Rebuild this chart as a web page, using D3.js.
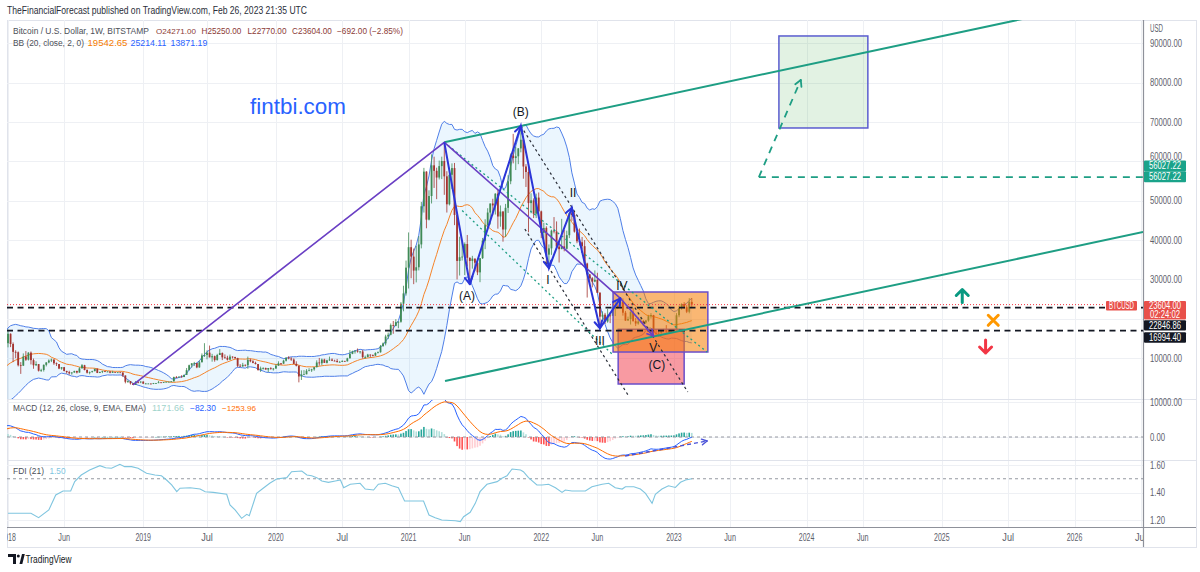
<!DOCTYPE html>
<html><head><meta charset="utf-8">
<script src="https://cdn.jsdelivr.net/npm/d3@7"></script>
<style>
body{margin:0;background:#fff;}
svg{display:block;font-family:"Liberation Sans",Arial,sans-serif;}
</style></head>
<body><svg id="c" width="1200" height="572"></svg>
<script>
// ---------------- DATA ----------------
const firstWeek = "2017-01-02"; // weekly bars (Monday open), BITSTAMP BTCUSD
const closes = [
905,820,920,920,1020,995,1050,1180,1270,1230,1020,960,1080,1190,1180,1240,1350,1550,1750,2050,2050,2520,2950,2500,2550,2500,2510,1930,2750,2750,3230,4050,4100,4350,4600,4200,3700,3600,4350,4600,5700,6000,5800,7400,5950,7800,9700,11000,15000,19000,14000,13800,
16200,13600,11600,11500,8200,8100,10400,9600,11400,9500,8200,8500,6800,7000,8300,8900,9400,9650,8700,8500,7350,7700,6750,6450,6150,6350,6750,6350,7400,8200,7000,6300,6500,6700,7300,6250,6500,6700,6600,6600,6300,6450,6400,6400,6350,5600,4000,4150,3600,3200,3950,3850,
4050,3500,3550,3550,3450,3650,3650,3850,3800,3900,4000,4000,4100,5200,5100,5300,5200,5750,6950,8200,8700,8750,7650,8950,10700,10800,11400,10200,10500,9500,10800,11300,10200,10100,9600,10400,10300,10000,8050,7900,8300,8200,9550,9200,8800,8500,7000,7400,7500,7100,7500,7300,
7350,8100,8700,8600,9350,10150,9900,9650,8550,8050,5350,5850,5900,6800,6900,7150,7700,8900,8700,9650,8800,9450,9650,9350,9300,9000,9050,9300,9200,9950,11100,11700,11900,11650,11700,10250,10300,10900,10750,10650,11300,11500,13050,13750,15500,15950,18400,18200,19150,19250,23850,26450,
33000,38200,35800,32250,33100,38900,48600,57400,45200,51200,59000,57600,55900,58800,60100,56200,49100,56600,58300,46400,34700,35650,35800,39000,35500,34700,35300,34250,31800,35400,39850,43800,47000,49300,48800,51800,46000,47250,42700,48200,54950,61500,60850,61300,63300,65500,58700,57300,49400,50100,46700,50800,47300,
41850,43100,36300,37900,42400,42200,38350,37700,38400,37800,41250,46800,46400,42150,39700,39450,38450,34050,31300,30300,29450,29900,26600,20550,21050,19300,20850,20800,22600,23300,23200,24300,21550,19550,19950,21800,19400,18800,19300,19450,19050,19550,20650,20950,16350,16300,16450,17100,17100,16750,16850,16600,
17100,20900,22700,23750,22950,21800,24296,23604];
const highs = [
1150,910,930,935,1030,1080,1060,1200,1290,1330,1260,1090,1090,1210,1210,1250,1360,1600,1780,2100,2760,2550,3000,2990,2780,2600,2650,2530,2880,2790,3300,4200,4480,4380,4980,4700,4400,4150,4400,4600,5850,6100,6200,7600,7900,8100,9700,11400,17200,19650,19200,15500,
17250,16300,14000,12000,11700,9000,11200,11800,11500,11700,9900,9200,8500,7300,8400,9000,9700,9900,9700,8900,8500,7700,7750,6800,6800,6450,6800,6800,7700,8500,8300,7150,6600,6800,7300,7400,6550,6800,6750,6650,6700,6800,6500,6450,6550,6400,5600,4400,4200,3600,4200,4200,
4100,4100,3700,3650,3550,3700,3700,4200,3900,3950,4000,4050,4150,5300,5450,5350,5650,5800,7500,8350,8700,9050,8800,9350,11200,13800,12000,13200,11100,10650,11100,12300,11450,10950,10600,10900,10450,10350,10100,8500,8800,8400,10400,9900,9500,9100,8500,7850,7700,7600,7500,7700,
7500,8450,9200,8750,9600,10150,10500,10250,9950,9200,8150,6900,6950,7200,7450,7300,7700,9450,10050,9900,9850,9600,10400,9950,9600,9800,9300,9450,9300,10100,12050,11900,12050,12450,11800,12100,10650,11100,10950,10950,11500,11700,13350,14000,15950,16500,18800,19450,19900,19400,24250,28400,
34800,41950,40100,37850,38550,41000,49700,58350,57500,52650,61800,61200,58400,60200,61200,64850,57500,58400,59500,59600,46600,40850,39500,39400,41300,35600,36000,35300,34650,35000,40550,45300,48100,49100,50500,51900,52900,48800,47400,49200,56500,62000,67000,63700,63400,69000,66300,59300,59100,51900,50600,51800,52100,
47500,44400,43500,38900,42650,45850,44750,39900,45400,42600,42400,46900,48200,47200,42400,42950,40800,40000,34250,31300,30600,32300,31700,26800,21900,21500,22500,21600,24300,24700,23650,25200,25200,22000,20550,21850,22700,20200,20400,20500,19700,19700,21000,21450,21000,17200,16900,17400,17450,18400,17100,16950,
17100,21450,23350,23950,24250,23450,25250,25250];
const lows = [
880,750,820,880,915,940,975,1050,1140,1120,950,890,930,1060,1150,1160,1240,1350,1540,1730,1900,2050,2480,2150,2400,2350,2400,1840,1930,2600,2650,3200,3900,3980,4300,4050,2950,3500,3600,4150,4550,5100,5400,5800,5500,5850,7800,8900,11000,14800,11000,12000,
12750,12800,9000,10000,7900,6000,8000,9300,9400,8400,7300,8000,6600,6500,6600,7900,8700,9000,8300,8000,7200,7050,6650,6100,5800,5800,6300,6100,6300,7400,6900,6100,5900,6300,6650,6200,6200,6200,6450,6450,6150,6250,6400,6250,6350,5200,3600,3700,3300,3200,3200,3600,
3650,3500,3450,3500,3350,3400,3550,3650,3750,3700,3850,3950,3950,4100,4950,5050,5100,5200,5750,6900,7600,8000,7450,7550,8950,10300,9700,10200,9100,9100,9400,10800,9500,9900,9400,9600,9900,9800,7700,7800,7800,7900,7300,8950,8700,8400,6800,6500,7100,7100,6450,7050,
6850,7350,8050,8250,8550,9150,9700,9300,8500,7900,3850,4450,5800,5900,6750,6500,6800,7650,8100,8200,8800,8650,9300,9250,9250,8900,8950,9050,9100,9150,9950,11000,11150,11400,11150,9900,9850,10200,10150,10450,10550,11200,11400,12900,13250,14850,15800,16200,18100,17600,19000,21900,
25900,27700,30300,28800,29250,32300,37900,47000,43000,45000,49300,53250,50400,55400,55500,51500,47000,48800,53000,43800,30000,31000,34800,31100,33300,28800,32750,32100,31100,29300,35200,37700,43000,43950,46300,46500,42900,43400,39600,40800,46900,54200,59500,57800,59300,62300,55600,53500,42000,46800,45600,45600,45900,
40500,39650,34000,32900,36250,41700,38000,34300,37700,37150,37600,40500,44900,41900,39200,38600,37600,33700,25400,28650,28000,29300,26600,17600,19650,18750,19000,18900,20700,20700,22500,22700,20800,19500,19550,18550,19300,18150,18500,19100,18150,18800,19250,20050,15600,15800,15450,16050,16850,16450,16350,16450,
16550,17100,20400,22300,22550,21450,21400,22770];
const firstOpen = 1000;

const fdiDates = ["2018-01-01","2018-03-05","2018-03-26","2018-04-23","2018-05-12","2018-06-01","2018-06-22","2018-07-03","2018-07-21","2018-08-13","2018-09-10","2018-09-26","2018-10-12","2018-11-04","2018-11-17","2018-12-06","2018-12-24","2019-01-16","2019-02-08","2019-02-26","2019-03-12","2019-03-26","2019-04-09","2019-04-18","2019-05-16","2019-06-12","2019-06-26","2019-07-18","2019-08-24","2019-09-02","2019-09-16","2019-10-04","2019-10-18","2019-10-25","2019-11-14","2019-12-02","2019-12-20","2020-01-08","2020-02-05","2020-02-18","2020-03-17","2020-03-31","2020-04-13","2020-04-27","2020-05-11","2020-05-29","2020-06-17","2020-07-01","2020-07-10","2020-07-28","2020-08-24","2020-09-07","2020-09-30","2020-10-13","2020-11-01","2020-11-19","2020-12-07","2020-12-24","2021-02-14","2021-03-01","2021-03-18","2021-04-05","2021-05-12","2021-05-26","2021-06-04","2021-06-22","2021-07-06","2021-07-19","2021-08-07","2021-09-04","2021-09-17","2021-10-01","2021-10-15","2021-11-07","2021-11-15","2021-11-29","2021-12-22","2022-01-05","2022-01-23","2022-02-11","2022-03-01","2022-03-10","2022-03-28","2022-05-04","2022-05-22","2022-06-19","2022-07-07","2022-07-25","2022-08-13","2022-08-22","2022-09-14","2022-10-02","2022-10-16","2022-11-03","2022-11-12","2022-11-30","2022-12-18","2023-01-06","2023-01-20","2023-02-03","2023-02-20"];
const fdiValues = [1.249,1.249,1.217,1.273,1.382,1.411,1.411,1.479,1.527,1.564,1.595,1.580,1.576,1.605,1.588,1.588,1.576,1.540,1.527,1.522,1.491,1.455,1.406,1.431,1.435,1.425,1.406,1.401,1.387,1.309,1.273,1.212,1.241,1.231,1.394,1.431,1.467,1.498,1.508,1.551,1.556,1.527,1.522,1.508,1.484,1.474,1.484,1.491,1.435,1.460,1.467,1.425,1.418,1.460,1.467,1.449,1.435,1.338,1.338,1.236,1.217,1.200,1.195,1.188,1.224,1.256,1.321,1.406,1.460,1.479,1.503,1.522,1.571,1.564,1.551,1.508,1.455,1.455,1.460,1.435,1.401,1.418,1.411,1.411,1.442,1.460,1.467,1.435,1.425,1.442,1.442,1.425,1.394,1.321,1.387,1.425,1.449,1.437,1.474,1.491,1.500];

const tickDates = ["2018-01-01","2018-06-04","2019-01-07","2019-07-01","2020-01-06","2020-07-06","2021-01-04","2021-06-07","2022-01-03","2022-06-06","2023-01-02","2023-06-05","2024-01-01","2024-06-03","2025-01-06","2025-07-07","2026-01-05","2026-07-06"];
const tickLabels = ["2018","Jun","2019","Jul","2020","Jul","2021","Jun","2022","Jun","2023","Jun","2024","Jun","2025","Jul","2026","Jul"];
const priceTicks = [10000,20000,30000,40000,50000,60000,70000,80000,90000];
const macdTicks = [10000,0];
const fdiTicks = [1.6,1.4,1.2];

// drawings (date, price)
const purplePath = [["2018-12-10",3200],["2021-04-12",64850],["2022-08-08",25200],["2022-11-07",15600]];
const bluePath = [["2021-04-12",64850],["2021-06-21",28800],["2021-11-08",69000],["2022-01-24",32900],["2022-03-28",48200],["2022-06-13",17600],["2022-08-08",25200]];
const waveLabels = ["(A)","(B)","I","II","III","IV","V","(C)"];
const waveLabelDates = ["2021-06-13","2021-11-08","2022-01-21","2022-03-31","2022-06-13","2022-08-12","2022-11-06","2022-11-16"];
const waveLabelPrices = [25800,72800,29860,51970,14360,28340,12830,8510];
const upperTrend = [["2021-04-12",64850],["2021-11-08",69000]];
const lowerTrend = [["2021-04-14",4190],["2026-07-12",42060]];
const levels = [22846.86, 16994.40];
const targetLevel = 56027.22;
const targetPath = [["2023-08-23",56027.22],["2023-12-16",80690]];
const greenBox = [["2023-10-17",91870],["2024-06-17",68490]];
const orangeBox = [["2022-07-19",26810],["2023-04-05",11560]];
const redBox = [["2022-08-02",17330],["2023-01-30",3430]];
const blackDotted = [[["2021-11-08",69000],["2023-02-09",1400]],[["2021-11-19",42820],["2022-08-29",640]]];
const tealDotted = [[["2021-04-12",64850],["2023-04-03",11560]],[["2021-05-31",47500],["2022-07-19",10800]]];
const upMark = ["2025-03-03",25920], crossMark = ["2025-05-27",19620], downMark = ["2025-05-06",12830];
const macdArrow = [["2022-08-21",-5430],["2023-04-03",-1140]];
const lastPrice = 23604.00;

// ---------------- SETUP ----------------
const D = s => new Date(s + "T00:00:00Z");
const svg = d3.select("#c");
const PL = 7, PR = 1143; // left / right edge of panes
const x = d3.scaleUtc().domain([D("2018-01-01"), D("2026-01-01")]).range([8, 8 + 2922 * 0.3645]);
const yP = d3.scaleLinear().domain([-380, 95930]).range([399, 20]);
const yM = d3.scaleLinear().domain([0, 10000]).range([437, 402]);
const yF = d3.scaleLinear().domain([1.2, 1.6]).range([520, 465]);

const defs = svg.append("defs");
function clip(id, y0, y1) { defs.append("clipPath").attr("id", id).append("rect").attr("x", PL).attr("y", y0).attr("width", PR - PL).attr("height", y1 - y0); }
clip("cm", 20, 399); clip("cd", 399, 460); clip("cf", 460, 527); clip("ct", 527, 548);

// text helper: condensed look via textLength; legend items ("fit") get a fitted font size instead
function T(g, s, xx, yy, o = {}) {
  const size = o.size || 10;
  const t = g.append("text").attr("x", xx).attr("y", yy).text(s)
    .attr("font-size", size).attr("fill", o.fill || "#131722")
    .attr("text-anchor", o.anchor || "start");
  if (o.weight) t.attr("font-weight", o.weight);
  const n = t.node().getComputedTextLength();
  if (!o.w) return t;
  if (o.fit) t.attr("font-size", Math.min(size, size * o.w / n).toFixed(2));
  else t.attr("textLength", o.w).attr("lengthAdjust", "spacingAndGlyphs");
  return t;
}

// bars
const bars = closes.map((c, i) => {
  const d = new Date(D(firstWeek).getTime() + i * 7 * 864e5);
  const o = i === 0 ? firstOpen : closes[i - 1];
  return { d, o, c, h: Math.max(highs[i], o, c), l: Math.min(lows[i], o, c) };
});

// indicators derived from closes
const bb = bars.map((b, i) => {
  if (i < 19) return null;
  const w = closes.slice(i - 19, i + 1), m = d3.mean(w);
  const sd = Math.sqrt(d3.mean(w, v => (v - m) * (v - m)));
  return { d: b.d, m, u: m + 2 * sd, l: m - 2 * sd };
}).filter(Boolean);
function ema(a, n) { const k = 2 / (n + 1); let p; return a.map((v, i) => (p = i === 0 ? v : v * k + p * (1 - k))); }
const e12 = ema(closes, 12), e26 = ema(closes, 26);
const macd = closes.map((c, i) => e12[i] - e26[i]);
const sig = ema(macd, 9);
const hist = macd.map((m, i) => m - sig[i]);

// ---------------- BACKGROUND / GRID ----------------
svg.append("rect").attr("width", 1200).attr("height", 572).attr("fill", "#fff");
T(svg, "TheFinancialForecast published on TradingView.com, Feb 26, 2023 21:35 UTC", 7, 13.5, { size: 10.5, fill: "#2a2e39", w: 300 });
svg.append("rect").attr("x", PL + 0.5).attr("y", 20.5).attr("width", 1196 - PL).attr("height", 527).attr("fill", "none").attr("stroke", "#e0e3eb");

const grid = svg.append("g").attr("stroke", "#eef0f4").attr("stroke-width", 1);
tickDates.forEach(t => { const xx = Math.round(x(D(t))) + 0.5; if (xx < PR && xx > PL) grid.append("line").attr("x1", xx).attr("x2", xx).attr("y1", 20).attr("y2", 527); });
priceTicks.forEach(p => { const yy = Math.round(yP(p)) + 0.5; grid.append("line").attr("x1", PL).attr("x2", PR).attr("y1", yy).attr("y2", yy); });
macdTicks.forEach(p => { const yy = Math.round(yM(p)) + 0.5; grid.append("line").attr("x1", PL).attr("x2", PR).attr("y1", yy).attr("y2", yy); });
fdiTicks.forEach(p => { const yy = Math.round(yF(p)) + 0.5; grid.append("line").attr("x1", PL).attr("x2", PR).attr("y1", yy).attr("y2", yy); });

// ---------------- MAIN PANE ----------------
const gm = svg.append("g").attr("clip-path", "url(#cm)");
gm.append("path").datum(bb).attr("fill", "rgba(33,150,243,0.09)")
  .attr("d", d3.area().x(d => x(d.d)).y0(d => yP(d.l)).y1(d => yP(d.u)));
gm.append("path").datum(bb).attr("fill", "none").attr("stroke", "#4f7fe8").attr("stroke-width", 1)
  .attr("d", d3.line().x(d => x(d.d)).y(d => yP(d.u)));
gm.append("path").datum(bb).attr("fill", "none").attr("stroke", "#4f7fe8").attr("stroke-width", 1)
  .attr("d", d3.line().x(d => x(d.d)).y(d => yP(d.l)));
gm.append("path").datum(bb).attr("fill", "none").attr("stroke", "#f5842a").attr("stroke-width", 1)
  .attr("d", d3.line().x(d => x(d.d)).y(d => yP(d.m)));

const UP = "#3f8a56", DN = "#a3342f";
const cg = gm.append("g");
bars.forEach(b => {
  const col = b.c >= b.o ? UP : DN, xx = x(b.d);
  cg.append("line").attr("x1", xx).attr("x2", xx).attr("y1", yP(b.h)).attr("y2", yP(b.l)).attr("stroke", col).attr("stroke-width", 0.8);
  const y0 = yP(Math.max(b.o, b.c)), y1 = yP(Math.min(b.o, b.c));
  cg.append("rect").attr("x", xx - 0.9).attr("width", 1.8).attr("y", y0).attr("height", Math.max(0.8, y1 - y0)).attr("fill", col);
});

const P = p => [x(D(p[0])), yP(p[1])];

function arrowHead(g, a, b, col, w, L) {
  const ang = Math.atan2(b[1] - a[1], b[0] - a[0]);
  [0.5, -0.5].forEach(da => g.append("line").attr("x1", b[0]).attr("y1", b[1])
    .attr("x2", b[0] - L * Math.cos(ang + da)).attr("y2", b[1] - L * Math.sin(ang + da))
    .attr("stroke", col).attr("stroke-width", w).attr("stroke-linecap", "round"));
}

// boxes
function box(b, fill, stroke) {
  const a = P(b[0]), c = P(b[1]);
  gm.append("rect").attr("x", a[0]).attr("y", a[1]).attr("width", c[0] - a[0]).attr("height", c[1] - a[1])
    .attr("fill", fill).attr("stroke", stroke).attr("stroke-width", 1.5);
}
box(redBox, "rgba(242,54,69,0.5)", "#6a4fc9");
box(orangeBox, "rgba(245,124,0,0.55)", "#6a4fc9");
box(greenBox, "rgba(76,175,80,0.16)", "#5a5ccf");

// current price line
gm.append("line").attr("x1", PL).attr("x2", 1105).attr("y1", yP(lastPrice)).attr("y2", yP(lastPrice))
  .attr("stroke", "#f23645").attr("stroke-width", 1).attr("stroke-dasharray", "1,2");
// horizontal levels
levels.forEach(v => gm.append("line").attr("x1", PL).attr("x2", PR).attr("y1", yP(v)).attr("y2", yP(v))
  .attr("stroke", "#131722").attr("stroke-width", 1.8).attr("stroke-dasharray", "6,4.5"));

// dotted channels
blackDotted.forEach(s => { const a = P(s[0]), b = P(s[1]);
  gm.append("line").attr("x1", a[0]).attr("y1", a[1]).attr("x2", b[0]).attr("y2", b[1]).attr("stroke", "#2a2e39").attr("stroke-width", 1.2).attr("stroke-dasharray", "2.5,3"); });
tealDotted.forEach(s => { const a = P(s[0]), b = P(s[1]);
  gm.append("line").attr("x1", a[0]).attr("y1", a[1]).attr("x2", b[0]).attr("y2", b[1]).attr("stroke", "#1e9e84").attr("stroke-width", 1.3).attr("stroke-dasharray", "2,3"); });

// trend lines
const TEAL = "#1e9e84";
(function () {
  const t1 = D(upperTrend[0][0]).getTime(), t2 = D(upperTrend[1][0]).getTime();
  const tEnd = x.invert(PR).getTime();
  const pEnd = upperTrend[0][1] + (upperTrend[1][1] - upperTrend[0][1]) * (tEnd - t1) / (t2 - t1);
  gm.append("line").attr("x1", x(t1)).attr("y1", yP(upperTrend[0][1])).attr("x2", PR).attr("y2", yP(pEnd)).attr("stroke", TEAL).attr("stroke-width", 2);
  const a = P(lowerTrend[0]), b = P(lowerTrend[1]);
  gm.append("line").attr("x1", a[0]).attr("y1", a[1]).attr("x2", b[0]).attr("y2", b[1]).attr("stroke", TEAL).attr("stroke-width", 2);
})();

// target projection
{
  const a = P(targetPath[0]), b = P(targetPath[1]);
  gm.append("line").attr("x1", a[0]).attr("y1", yP(targetLevel)).attr("x2", PR).attr("y2", yP(targetLevel)).attr("stroke", TEAL).attr("stroke-width", 1.8).attr("stroke-dasharray", "7,6");
  gm.append("line").attr("x1", a[0]).attr("y1", a[1]).attr("x2", b[0]).attr("y2", b[1]).attr("stroke", TEAL).attr("stroke-width", 1.8).attr("stroke-dasharray", "7,6");
  arrowHead(gm, a, b, TEAL, 1.8, 7);
}

// wave paths
const pp = purplePath.map(P);
gm.append("path").attr("d", d3.line()(pp)).attr("fill", "none").attr("stroke", "#6a3fc4").attr("stroke-width", 1.6);
arrowHead(gm, pp[2], pp[3], "#6a3fc4", 1.6, 7);
const bp = bluePath.map(P);
gm.append("path").attr("d", d3.line()(bp)).attr("fill", "none").attr("stroke", "#2b35d8").attr("stroke-width", 2);
for (let i = 1; i < bp.length; i++) arrowHead(gm, bp[i - 1], bp[i], "#2b35d8", 2, 8);

waveLabels.forEach((s, i) => T(gm, s, x(D(waveLabelDates[i])), yP(waveLabelPrices[i]) + 4.5, { size: 12, fill: "#131722", anchor: "middle" }));

T(gm, "fintbi.com", 250, 113.5, { size: 21.5, fill: "#2962ff", w: 96 });

// markers
{
  const u = P(upMark), c = P(crossMark), d = P(downMark);
  const g = gm.append("g").attr("fill", "none").attr("stroke-width", 3).attr("stroke-linecap", "round").attr("stroke-linejoin", "round");
  g.append("path").attr("d", `M${u[0]},${u[1] + 7}V${u[1] - 6}M${u[0] - 6},${u[1]}L${u[0]},${u[1] - 6}L${u[0] + 6},${u[1]}`).attr("stroke", "#089981");
  g.append("path").attr("d", `M${d[0]},${d[1] - 7}V${d[1] + 6}M${d[0] - 6},${d[1]}L${d[0]},${d[1] + 6}L${d[0] + 6},${d[1]}`).attr("stroke", "#f23645");
  g.append("path").attr("d", `M${c[0] - 5},${c[1] - 5}L${c[0] + 5},${c[1] + 5}M${c[0] + 5},${c[1] - 5}L${c[0] - 5},${c[1] + 5}`).attr("stroke", "#ff9800");
}

// legend (fitted sizes so neighbouring items never overlap)
const F = true;
T(svg, "Bitcoin / U.S. Dollar, 1W, BITSTAMP", 13, 34, { fill: "#4c4f58", w: 136, fit: F });
const VC = "#8c3a36";
T(svg, "O24271.00", 156, 34, { fill: VC, w: 40, fit: F });
T(svg, "H25250.00", 201.5, 34, { fill: VC, w: 40, fit: F });
T(svg, "L22770.00", 247.5, 34, { fill: VC, w: 39, fit: F });
T(svg, "C23604.00", 292, 34, { fill: VC, w: 40, fit: F });
T(svg, "\u2212692.00 (\u22122.85%)", 337, 34, { fill: VC, w: 66, fit: F });
T(svg, "BB (20, close, 2, 0)", 13, 45.5, { fill: "#4c4f58", w: 71, fit: F });
T(svg, "19542.65", 87.5, 45.5, { fill: "#f57c00", w: 40, fit: F });
T(svg, "25214.11", 130.5, 45.5, { fill: "#2962ff", w: 36, fit: F });
T(svg, "13871.19", 170.5, 45.5, { fill: "#2962ff", w: 37, fit: F });

// ---------------- MACD PANE ----------------
const gd = svg.append("g").attr("clip-path", "url(#cd)");
bars.forEach((b, i) => {
  const h = hist[i], ph = i ? hist[i - 1] : 0;
  const col = h >= 0 ? (h > ph ? "#26a69a" : "#b2dfdb") : (h < ph ? "#ff5252" : "#ffcdd2");
  const y0 = yM(Math.max(0, h)), y1 = yM(Math.min(0, h));
  gd.append("rect").attr("x", x(b.d) - 0.8).attr("width", 1.6).attr("y", y0).attr("height", Math.max(0.5, y1 - y0)).attr("fill", col);
});
gd.append("line").attr("x1", PL).attr("x2", PR).attr("y1", yM(0)).attr("y2", yM(0)).attr("stroke", "#9598a1").attr("stroke-dasharray", "3,3");
gd.append("path").datum(bars).attr("fill", "none").attr("stroke", "#2962ff").attr("stroke-width", 1)
  .attr("d", d3.line().x(d => x(d.d)).y((d, i) => yM(macd[i])));
gd.append("path").datum(bars).attr("fill", "none").attr("stroke", "#ff6d00").attr("stroke-width", 1)
  .attr("d", d3.line().x(d => x(d.d)).y((d, i) => yM(sig[i])));
{
  const a = [x(D(macdArrow[0][0])), yM(macdArrow[0][1])], b = [x(D(macdArrow[1][0])), yM(macdArrow[1][1])];
  gd.append("line").attr("x1", a[0]).attr("y1", a[1]).attr("x2", b[0]).attr("y2", b[1]).attr("stroke", "#4a52d8").attr("stroke-width", 1.4).attr("stroke-dasharray", "4,3");
  arrowHead(gd, a, b, "#4a52d8", 1.4, 6);
}
T(svg, "MACD (12, 26, close, 9, EMA, EMA)", 13, 411, { fill: "#4c4f58", w: 133, fit: F });
T(svg, "1171.66", 152, 411, { fill: "#9fd3cb", w: 32, fit: F });
T(svg, "\u221282.30", 190, 411, { fill: "#2962ff", w: 26, fit: F });
T(svg, "\u22121253.96", 222, 411, { fill: "#ff6d00", w: 34, fit: F });

// ---------------- FDI PANE ----------------
const gf = svg.append("g").attr("clip-path", "url(#cf)");
gf.append("line").attr("x1", PL).attr("x2", PR).attr("y1", yF(1.5)).attr("y2", yF(1.5)).attr("stroke", "#9598a1").attr("stroke-dasharray", "3,3");
gf.append("path").datum(fdiValues).attr("fill", "none").attr("stroke", "#7fc5df").attr("stroke-width", 1.1)
  .attr("d", d3.line().x((d, i) => x(D(fdiDates[i]))).y(d => yF(d)));
T(svg, "FDI (21)", 13, 474, { fill: "#4c4f58", w: 31, fit: F });
T(svg, "1.50", 49.5, 474, { fill: "#7fc5df", w: 16, fit: F });

// ---------------- SEPARATORS / AXES ----------------
[399.5, 460.5].forEach(yy => svg.append("line").attr("x1", PL).attr("x2", 1196).attr("y1", yy).attr("y2", yy).attr("stroke", "#e0e3eb"));
svg.append("line").attr("x1", PL).attr("x2", 1196).attr("y1", 527.5).attr("y2", 527.5).attr("stroke", "#8e919a").attr("stroke-width", 1.2);
svg.append("line").attr("x1", PR + 0.5).attr("x2", PR + 0.5).attr("y1", 20).attr("y2", 548).attr("stroke", "#8e919a").attr("stroke-width", 1.2);
svg.append("line").attr("x1", PL).attr("x2", 1196).attr("y1", 547.5).attr("y2", 547.5).attr("stroke", "#e0e3eb");

// price badges cover scale labels that sit under them, as on the price scale
const badgeSpans = [[160.5, 182.3], [301, 342.7]];
const AX = "#5d606b";
T(svg, "USD", 1150, 31.5, { fill: AX, w: 13 });
priceTicks.forEach(p => {
  let yy = yP(p);
  const hit = badgeSpans.find(s => yy + 4 > s[0] && yy - 4 < s[1]);
  if (hit && yy > hit[0] + 3) return;
  if (hit) yy = hit[0] - 4.5;
  T(svg, d3.format(".2f")(p), 1150, yy + 3.5, { fill: AX, w: 32 });
});
macdTicks.forEach(p => T(svg, d3.format(".2f")(p), 1150, yM(p) + 3.5, { fill: AX, w: p ? 32 : 15 }));
fdiTicks.forEach(p => T(svg, d3.format(".2f")(p), 1150, yF(p) + 3.5, { fill: AX, w: 15 }));

const gt = svg.append("g").attr("clip-path", "url(#ct)");
tickDates.forEach((t, i) => T(gt, tickLabels[i], x(D(t)), 541, { fill: AX, anchor: "middle", w: tickLabels[i].length * 3.9 }));

function badge(y0, y1, bg, lines) {
  svg.append("rect").attr("x", PR + 1).attr("y", y0).attr("width", 42).attr("height", y1 - y0).attr("fill", bg).attr("rx", 1);
  lines.forEach(l => T(svg, l[0], PR + 22, l[1], { fill: "#fff", anchor: "middle", w: l[2] || 32 }));
}
badge(160.5, 171.3, "#1aa38a", [["56027.22", 169.3]]);
badge(171.3, 182.3, "#1aa38a", [["56027.22", 180.3]]);
badge(301, 319.5, "#e8504a", [["23604.00", 308.6], ["02:24:02", 317.6, 30]]);
badge(320.2, 330.5, "#131722", [["22846.86", 328.8]]);
badge(332.2, 342.7, "#131722", [["16994.40", 340.8]]);
svg.append("rect").attr("x", 1106).attr("y", 301).attr("width", 31).attr("height", 9.5).attr("fill", "#e8504a").attr("rx", 1);
T(svg, "BTCUSD", 1121.5, 309, { fill: "#fff", anchor: "middle", w: 25 });

// TradingView logo
{
  const g = svg.append("g").attr("fill", "#131722");
  g.append("path").attr("d", "M8,554H16V564H13V557H8Z");
  g.append("circle").attr("cx", 18.3).attr("cy", 556).attr("r", 1.5);
  g.append("path").attr("d", "M19.5,564L22,554H24.8L22.3,564Z");
  T(svg, "TradingView", 25.5, 562.5, { size: 10, fill: "#131722", w: 46 });
}
</script>
</body></html>
